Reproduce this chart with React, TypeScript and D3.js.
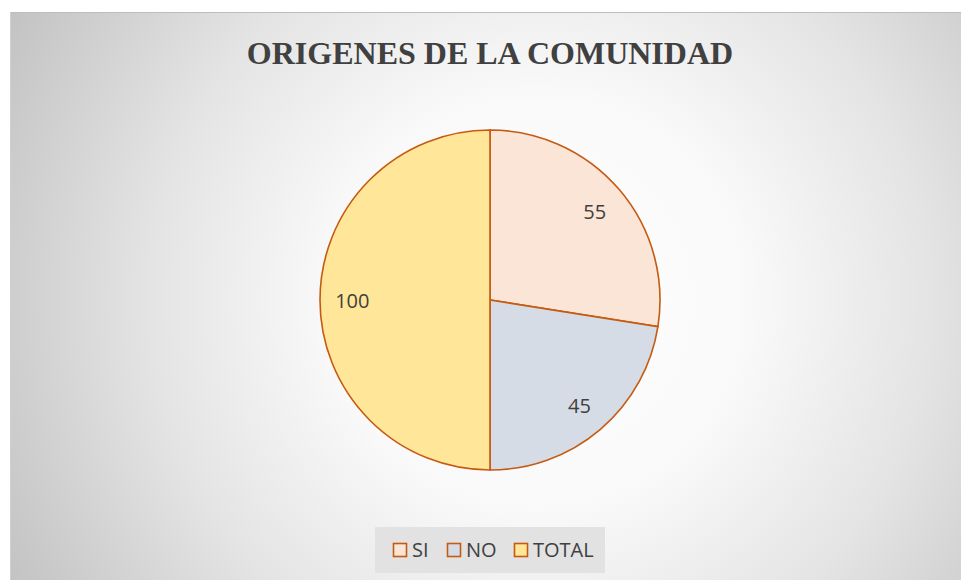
import React from 'react';
import * as d3 from 'd3';

const categories = ['SI', 'NO', 'TOTAL'];
const values = [55, 45, 100];
const fills = ['#FBE5D6', '#D6DCE5', '#FFE699'];
const title = 'ORIGENES DE LA COMUNIDAD';

const W = 961;
const H = 580;
const cx = 490;
const cy = 300;
const R = 170;

const App = () => {
  const pie = d3.pie<number>().sort(null).value(d => d)(values);
  const arc = d3.arc<d3.PieArcDatum<number>>().innerRadius(0).outerRadius(R);
  const labelArc = d3.arc<d3.PieArcDatum<number>>().innerRadius(R * 0.81).outerRadius(R * 0.81);

  // legend layout
  const legendX = d3.scaleOrdinal<string, number>().domain(categories).range([393, 447, 514]);

  return (
    <div style={{ position: 'absolute', left: 0, top: 0 }}>
      <svg width={W} height={H} style={{ display: 'block' }}>
        <defs>
          <radialGradient id="bg" gradientUnits="userSpaceOnUse" cx={540} cy={300} r={600}>
            <stop offset="0" stopColor="#ffffff" />
            <stop offset="0.35" stopColor="#f9f9f9" />
            <stop offset="0.65" stopColor="#e4e4e4" />
            <stop offset="1" stopColor="#c3c3c3" />
          </radialGradient>
        </defs>
        <rect x={0} y={0} width={W} height={H} fill="#ffffff" />
        <rect x={10} y={12} width={W - 10} height={H - 12} fill="url(#bg)" />
        <line x1={10} x2={W} y1={12.5} y2={12.5} stroke="#bdbdbd" strokeWidth={1} />
        <line x1={10.5} x2={10.5} y1={12} y2={H} stroke="#d0d0d0" strokeWidth={1} />

        <text x={cx} y={64} textAnchor="middle" fontFamily="'Liberation Serif', 'DejaVu Serif', serif"
          fontWeight="bold" fontSize={32} fill="#404040">{title}</text>

        <g transform={`translate(${cx},${cy})`}>
          {pie.map((d, i) => (
            <path key={categories[i]} d={arc(d) || ''} fill={fills[i]} stroke="#C55A11" strokeWidth={1.6} />
          ))}
          {pie.map((d, i) => {
            const [x, y] = labelArc.centroid(d);
            return (
              <text key={'l' + i} x={x} y={y} dy="0.4em" textAnchor="middle"
                fontFamily="'Open Sans', 'Noto Sans', sans-serif" fontSize={20} fill="#404040">
                {values[i]}
              </text>
            );
          })}
        </g>

        <rect x={375} y={527} width={230} height={46} fill="#e2e2e2" />
        {categories.map((c, i) => (
          <g key={c} transform={`translate(${legendX(c)},543)`}>
            <rect x={0.5} y={0.5} width={13} height={13} fill={fills[i]} stroke="#C55A11" strokeWidth={1.6} />
            <text x={19} y={7} dy="0.37em" fontFamily="'Open Sans', 'Noto Sans', sans-serif"
              fontSize={20} fill="#404040">{c}</text>
          </g>
        ))}
      </svg>
    </div>
  );
};

export default App;
